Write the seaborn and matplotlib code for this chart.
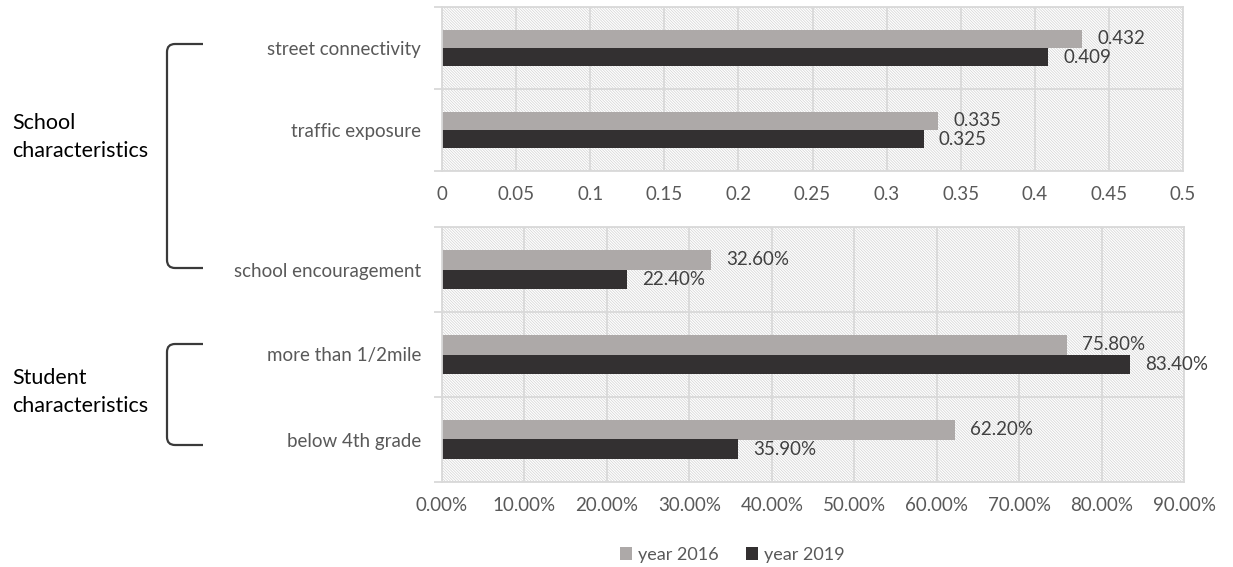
import pandas as pd
import matplotlib.pyplot as plt
import seaborn as sns
from matplotlib.patches import Rectangle, PathPatch
from matplotlib.path import Path
from matplotlib.ticker import FixedLocator, FuncFormatter

# data
years = ['year 2016', 'year 2019']
top_factors = ['street connectivity', 'traffic exposure']
top_2016 = [0.432, 0.335]
top_2019 = [0.409, 0.325]
bottom_factors = ['school encouragement', 'more than 1/2mile', 'below 4th grade']
bottom_2016 = [32.6, 75.8, 62.2]
bottom_2019 = [22.4, 83.4, 35.9]

colors = ['#ada9a8', '#333031']
text_gray = '#595959'
line_gray = '#d9d9d9'
fs = 13.5

sns.set_style('white')
plt.rcParams['font.family'] = ['Lato', 'DejaVu Sans']
plt.rcParams['hatch.linewidth'] = 0.5

df_top = pd.DataFrame({
    'factor': top_factors * 2,
    'value': top_2016 + top_2019,
    'year': [years[0]] * 2 + [years[1]] * 2,
})
df_bot = pd.DataFrame({
    'factor': bottom_factors * 2,
    'value': bottom_2016 + bottom_2019,
    'year': [years[0]] * 3 + [years[1]] * 3,
})

W, H = 1233, 567
fig = plt.figure(figsize=(W / 100, H / 100), dpi=100)
ax1 = fig.add_axes([442 / W, 1 - 171 / H, (1183 - 442) / W, (171 - 7) / H])
ax2 = fig.add_axes([442 / W, 1 - 482 / H, (1184 - 442) / W, (482 - 227) / H])


def style_axis(ax, df, xmax, step, fmt_tick, fmt_lbl):
    sns.barplot(data=df, y='factor', x='value', hue='year', orient='h',
                palette=colors, saturation=1, width=0.45, linewidth=0,
                ax=ax, legend=True)
    n = df['factor'].nunique()
    ax.set_xlim(0, xmax)
    ax.set_ylim(n - 0.5, -0.5)
    ax.set_xticks([i * step for i in range(int(round(xmax / step)) + 1)])
    ax.xaxis.set_major_formatter(FuncFormatter(fmt_tick))
    ax.yaxis.set_minor_locator(FixedLocator([i - 0.5 for i in range(n + 1)]))
    ax.set_axisbelow(True)
    ax.grid(axis='x', color=line_gray, lw=1.3)
    ax.grid(axis='y', which='minor', color=line_gray, lw=1.3)
    ax.grid(axis='y', which='major', visible=False)
    ax.tick_params(axis='x', length=0, pad=11, labelsize=fs, labelcolor=text_gray)
    ax.tick_params(axis='y', which='major', length=0, pad=15, labelsize=fs,
                   labelcolor=text_gray)
    ax.tick_params(axis='y', which='minor', length=6, width=1.3, color=line_gray,
                   left=True)
    for s in ax.spines.values():
        s.set_color(line_gray)
        s.set_linewidth(1.3)
    ax.add_patch(Rectangle((0, 0), 1, 1, transform=ax.transAxes, facecolor='white',
                           edgecolor='#d2d2d2', hatch='\\' * 12, lw=0, zorder=0.1))
    ax.set_xlabel('')
    ax.set_ylabel('')
    for c in ax.containers:
        ax.bar_label(c, labels=[fmt_lbl(v) for v in c.datavalues], padding=11,
                     fontsize=fs, color='#404040')
    ax.get_legend().remove()


style_axis(ax1, df_top, 0.5, 0.05,
           lambda v, p: f'{v:.2f}'.rstrip('0').rstrip('.') if v else '0',
           lambda v: f'{v:.3f}')
style_axis(ax2, df_bot, 90, 10,
           lambda v, p: f'{v:.2f}%',
           lambda v: f'{v:.2f}%')

handles, labels = ax2.get_legend_handles_labels()
fig.legend(handles, labels, loc='center', bbox_to_anchor=(732 / W, 1 - 555 / H),
           ncol=2, frameon=False, fontsize=13, labelcolor=text_gray,
           handlelength=0.7, handleheight=0.7, handletextpad=0.3, columnspacing=1.5)


# brackets for the group labels
def bracket(y0, y1, x0=167, x1=203, r=8):
    pts = [(x1, y0), (x0 + r, y0), (x0, y0), (x0, y0 + r), (x0, y1 - r),
           (x0, y1), (x0 + r, y1), (x1, y1)]
    codes = [Path.MOVETO, Path.LINETO, Path.CURVE3, Path.CURVE3, Path.LINETO,
             Path.CURVE3, Path.CURVE3, Path.LINETO]
    verts = [(x / W, 1 - y / H) for x, y in pts]
    fig.add_artist(PathPatch(Path(verts, codes), transform=fig.transFigure,
                             fill=False, edgecolor='#3a3a3a', lw=1.6))


bracket(44, 268)
bracket(344, 445)

fig.text(12 / W, 1 - 137 / H, 'School\ncharacteristics', ha='left', va='center',
         fontsize=15.5, color='black', linespacing=1.55)
fig.text(12 / W, 1 - 392 / H, 'Student\ncharacteristics', ha='left', va='center',
         fontsize=15.5, color='black', linespacing=1.55)

fig.savefig('out.png', dpi=100)
